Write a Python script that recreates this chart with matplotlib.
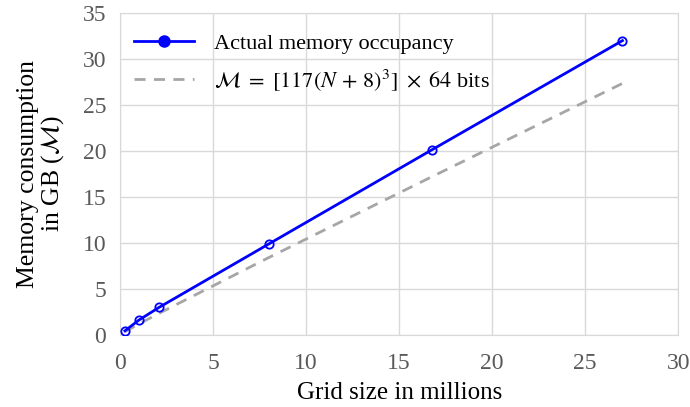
import matplotlib
matplotlib.use('Agg')
import matplotlib.pyplot as plt
from matplotlib.lines import Line2D

plt.rcParams['font.family'] = ['Liberation Serif', 'DejaVu Serif']
plt.rcParams['mathtext.fontset'] = 'stix'

# grid size (millions of cells) for N = 64, 100, 128, 200, 256, 300
grid_size = [0.262, 1.0, 2.097, 8.0, 16.777, 27.0]
actual_mem = [0.45, 1.6, 3.0, 9.9, 20.15, 32.0]
model_mem = [0.349, 1.179, 2.354, 8.423, 17.222, 27.348]

fig = plt.figure(figsize=(6.9, 4.07), dpi=100)
ax = fig.add_axes([0.174, 0.177, 0.809, 0.791])

ax.plot(grid_size, actual_mem, color='#0000FF', lw=2, marker='o', ms=6,
        mfc='none', mec='#0000FF', mew=1.3, zorder=3)
ax.plot(grid_size, model_mem, color='#A6A6A6', lw=2, ls=(0, (4, 3)), zorder=2)

ax.set_xlim(0, 30)
ax.set_ylim(0, 35)
ax.set_xticks(range(0, 31, 5))
ax.set_yticks(range(0, 36, 5))
ax.grid(True, color='#D9D9D9', lw=1)
ax.set_axisbelow(True)
for s in ax.spines.values():
    s.set_color('#D9D9D9')
ax.tick_params(axis='both', length=0, labelsize=17, labelcolor='#595959')
ax.tick_params(axis='x', pad=13)
ax.tick_params(axis='y', pad=10)

ax.set_xlabel('Grid size in millions', fontsize=18, labelpad=6)
ax.set_ylabel('Memory consumption\nin GB ($\\mathcal{M}$)', fontsize=18.5,
              labelpad=12, linespacing=1.0)

handles = [
    Line2D([], [], color='#0000FF', lw=2, marker='o', ms=8),
    Line2D([], [], color='#A6A6A6', lw=2, ls=(0, (4, 3))),
]
labels = ['Actual memory occupancy',
          '$\\mathcal{M}\\ =\\ [117(N\\,+\\,8)^3]\\ \\times\\ 64$ bits']
ax.legend(handles, labels, loc='upper left', bbox_to_anchor=(-0.01, 1.0),
          frameon=False, fontsize=16, handlelength=2.7, labelspacing=0.6,
          handletextpad=0.9)

fig.savefig('out.png', dpi=100)
